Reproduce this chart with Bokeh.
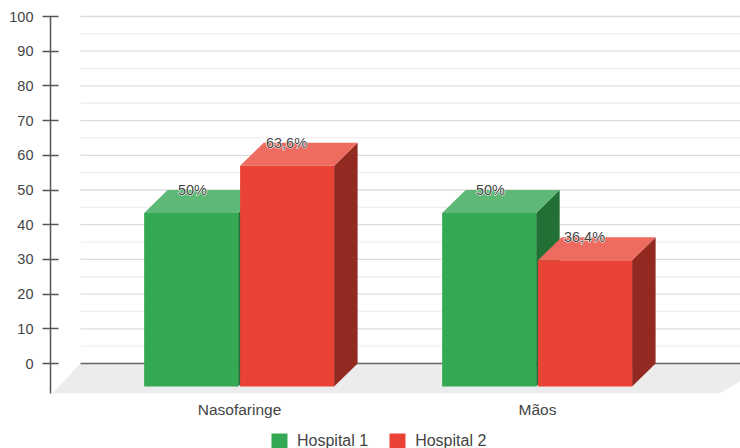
from bokeh.plotting import figure
from bokeh.models import Range1d, LinearAxis, FixedTicker, Legend, LegendItem
from bokeh.core.properties import value
from bokeh.embed import file_html
from bokeh.resources import INLINE

categories = ["Nasofaringe", "Mãos"]
hospital_1 = [50, 50]
hospital_2 = [63.6, 36.4]
labels_1 = ["50%", "50%"]
labels_2 = ["63,6%", "36,4%"]
series_names = ["Hospital 1", "Hospital 2"]
major_ticks = [0, 10, 20, 30, 40, 50, 60, 70, 80, 90, 100]
minor_ticks = [5, 15, 25, 35, 45, 55, 65, 75, 85, 95]

FONT = "Liberation Sans"
TXT = "#444444"
GREEN, GREEN_TOP, GREEN_SIDE = "#34A853", "#5DB975", "#227036"
RED, RED_TOP, RED_SIDE = "#EA4335", "#EE6B60", "#932A22"

PXX = 298.0          # px per category
PXY = 3.47           # px per value unit
DX = 23.5 / PXX      # 3D depth
DY = 23.0 / PXY
BW = 94.0 / PXX
FLOOR_LO = -30.0 / PXY

p = figure(width=740, height=448, output_backend="svg", toolbar_location=None,
           x_axis_type=None, y_axis_type=None,
           x_range=Range1d((50 - 239) / PXX, (740 - 239) / PXX),
           y_range=Range1d((363 - 448) / PXY, 363 / PXY),
           min_border_left=50, min_border_right=0, min_border_top=0, min_border_bottom=0)
p.outline_line_color = None
p.grid.visible = False
p.background_fill_color = "white"
p.border_fill_color = "white"

# back wall lines
wall_x0 = (80 - 239) / PXX
wall_x1 = (745 - 239) / PXX
p.segment([wall_x0] * len(minor_ticks), minor_ticks, [wall_x1] * len(minor_ticks), minor_ticks,
          line_color="#EFEFEF", line_width=1.3)
p.segment([wall_x0] * (len(major_ticks) - 1), major_ticks[1:], [wall_x1] * (len(major_ticks) - 1), major_ticks[1:],
          line_color="#DCDCDC", line_width=1.3)

# floor
p.patch([wall_x0, (770 - 239) / PXX, (719 - 239) / PXX, (52 - 239) / PXX],
        [0, 0, FLOOR_LO, FLOOR_LO], fill_color="#ECECEC", line_color=None)
p.segment([wall_x0], [0], [wall_x1], [0], line_color="#666666", line_width=1.5)


def bar(x0, val, front, top, side):
    x1 = x0 + BW
    p.patch([x1, x1 + DX, x1 + DX, x1], [-DY, 0, val, val - DY], fill_color=side, line_color=None)
    p.patch([x0, x0 + DX, x1 + DX, x1], [val - DY, val, val, val - DY], fill_color=top, line_color=None)
    return p.quad(left=[x0], right=[x1], bottom=[-DY], top=[val - DY], fill_color=front, line_color=None)


r1 = r2 = None
for i in range(len(categories)):
    r1 = bar(i - BW - 0.0045, hospital_1[i], GREEN, GREEN_TOP, GREEN_SIDE)
    r2 = bar(i + 0.002, hospital_2[i], RED, RED_TOP, RED_SIDE)

xs1 = [i - BW / 2 for i in range(len(categories))]
xs2 = [i + BW / 2 for i in range(len(categories))]
for xs, vals, labs in ((xs1, hospital_1, labels_1), (xs2, hospital_2, labels_2)):
    p.text(xs, vals, text=labs, text_font=value(FONT), text_font_size="14.5px", text_color="white",
           text_align="center", text_baseline="middle", text_outline_color="white")
    p.text(xs, vals, text=labs, text_font=value(FONT), text_font_size="14.5px", text_color=TXT,
           text_align="center", text_baseline="middle")

# value axis
ya = LinearAxis(ticker=FixedTicker(ticks=major_ticks), bounds=(-8.65, 100))
ya.axis_line_color = "#555555"
ya.axis_line_width = 1.5
ya.major_tick_line_color = "#555555"
ya.major_tick_line_width = 1.5
ya.major_tick_in = 8
ya.major_tick_out = 8
ya.minor_tick_line_color = None
ya.major_label_standoff = 9
ya.major_label_text_font = FONT
ya.major_label_text_font_size = "14.5px"
ya.major_label_text_color = TXT
p.add_layout(ya, "left")

# category axis
xa = LinearAxis(ticker=FixedTicker(ticks=list(range(len(categories)))), fixed_location=-8.65,
                major_label_overrides={i: c for i, c in enumerate(categories)})
xa.axis_line_color = None
xa.major_tick_line_color = None
xa.minor_tick_line_color = None
xa.major_tick_in = 0
xa.major_tick_out = 0
xa.major_label_standoff = 7
xa.major_label_text_font = FONT
xa.major_label_text_font_size = "15.5px"
xa.major_label_text_color = TXT
p.add_layout(xa, "below")

legend = Legend(items=[LegendItem(label=series_names[0], renderers=[r1]),
                       LegendItem(label=series_names[1], renderers=[r2])],
                orientation="horizontal", location=(219, -3), margin=0, padding=0,
                glyph_width=20, glyph_height=20, label_standoff=8, spacing=19,
                border_line_color=None, background_fill_alpha=0,
                label_text_font=FONT, label_text_font_size="16px", label_text_color=TXT,
                label_height=20)
p.add_layout(legend, "center")

open("out.html", "w").write(file_html(p, INLINE))
